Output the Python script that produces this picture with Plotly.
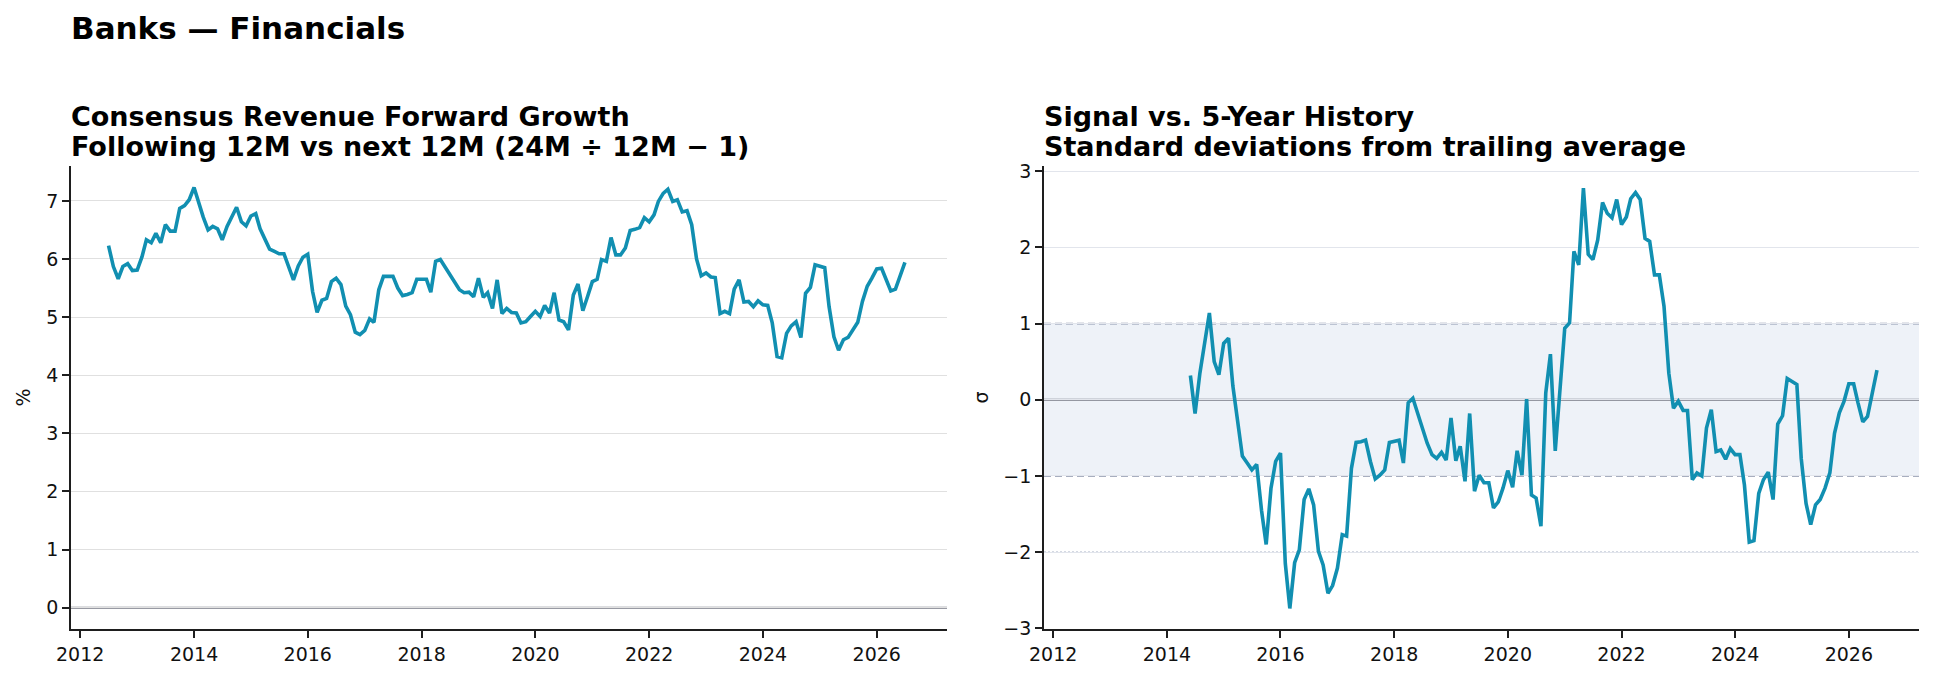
import pandas as pd
import plotly.graph_objects as go

# ---------------- data ----------------
LEFT_START = "2012-07-01"   # first month of the growth series
RIGHT_START = "2014-06-01"  # first month of the z-score series

growth_pct = [
    6.23, 5.87, 5.66, 5.87, 5.92, 5.80, 5.81, 6.04, 6.33, 6.28,
    6.44, 6.28, 6.59, 6.48, 6.48, 6.87, 6.92, 7.02, 7.23, 6.96,
    6.72, 6.50, 6.56, 6.52, 6.33, 6.56, 6.72, 6.89, 6.64, 6.57,
    6.74, 6.78, 6.52, 6.35, 6.17, 6.13, 6.09, 6.09, 5.87, 5.64,
    5.88, 6.03, 6.08, 5.44, 5.08, 5.29, 5.32, 5.61, 5.67, 5.56,
    5.19, 5.04, 4.74, 4.70, 4.77, 4.97, 4.91, 5.47, 5.70, 5.70,
    5.70, 5.50, 5.37, 5.39, 5.42, 5.65, 5.65, 5.65, 5.43, 5.96,
    5.99, 5.86, 5.73, 5.61, 5.47, 5.42, 5.43, 5.35, 5.67, 5.34,
    5.42, 5.15, 5.64, 5.06, 5.15, 5.08, 5.07, 4.90, 4.92, 5.01,
    5.10, 5.01, 5.20, 5.07, 5.42, 4.95, 4.92, 4.78, 5.38, 5.57,
    5.11, 5.35, 5.61, 5.65, 5.99, 5.96, 6.37, 6.07, 6.07, 6.19,
    6.49, 6.51, 6.54, 6.71, 6.64, 6.76, 6.99, 7.13, 7.20, 6.99,
    7.02, 6.81, 6.83, 6.59, 6.00, 5.71, 5.76, 5.69, 5.68, 5.06,
    5.10, 5.06, 5.48, 5.64, 5.26, 5.27, 5.18, 5.28, 5.21, 5.20,
    4.90, 4.32, 4.30, 4.72, 4.85, 4.92, 4.65, 5.41, 5.51, 5.90,
    5.87, 5.85, 5.18, 4.66, 4.43, 4.61, 4.65, 4.79, 4.91, 5.27,
    5.53, 5.67, 5.83, 5.84, 5.64, 5.45, 5.48, 5.70, 5.94,
]

zscore = [
    0.32, -0.18, 0.35, 0.77, 1.14, 0.50, 0.33, 0.74, 0.81, 0.18,
    -0.28, -0.74, -0.83, -0.92, -0.85, -1.45, -1.90, -1.16, -0.81, -0.70,
    -2.15, -2.74, -2.14, -1.97, -1.31, -1.17, -1.38, -1.99, -2.17, -2.54,
    -2.44, -2.21, -1.77, -1.79, -0.90, -0.56, -0.55, -0.53, -0.81, -1.04,
    -0.99, -0.92, -0.56, -0.55, -0.53, -0.83, -0.04, 0.02, -0.18, -0.39,
    -0.57, -0.72, -0.77, -0.69, -0.79, -0.24, -0.80, -0.61, -1.07, -0.18,
    -1.20, -0.99, -1.09, -1.09, -1.42, -1.34, -1.16, -0.93, -1.15, -0.67,
    -0.99, 0.01, -1.25, -1.29, -1.66, 0.09, 0.60, -0.67, 0.13, 0.94,
    1.01, 1.95, 1.77, 2.78, 1.91, 1.84, 2.10, 2.59, 2.45, 2.39,
    2.63, 2.30, 2.40, 2.64, 2.72, 2.63, 2.12, 2.08, 1.64, 1.64,
    1.23, 0.35, -0.11, -0.02, -0.14, -0.14, -1.05, -0.96, -1.00, -0.37,
    -0.13, -0.68, -0.66, -0.78, -0.64, -0.72, -0.72, -1.12, -1.87, -1.85,
    -1.23, -1.05, -0.95, -1.31, -0.32, -0.21, 0.28, 0.24, 0.20, -0.77,
    -1.36, -1.64, -1.38, -1.31, -1.16, -0.96, -0.44, -0.17, -0.02, 0.21,
    0.21, -0.04, -0.29, -0.22, 0.09, 0.39,
]

suptitle = "Banks — Financials"
left_title = ["Consensus Revenue Forward Growth",
              "Following 12M vs next 12M (24M ÷ 12M − 1)"]
right_title = ["Signal vs. 5-Year History",
               "Standard deviations from trailing average"]
left_ylabel = "%"
right_ylabel = "σ"

left_dates = pd.date_range(LEFT_START, periods=len(growth_pct), freq="MS")
right_dates = pd.date_range(RIGHT_START, periods=len(zscore), freq="MS")

# ---------------- style ----------------
W, H = 1934, 679
FONT = "DejaVu Sans"
LINE_COLOR = "#118fb1"
SPINE = "#1e1e1e"
ZERO = "#767884"
TICK_SIZE = 19

def px_x(p):
    return p / W

def px_y(p):
    return 1 - p / H

LEFT_DOM = [px_x(71), px_x(947)]
RIGHT_DOM = [px_x(1044), px_x(1919)]
Y_DOM = [px_y(629), px_y(166)]
X_RANGE = ["2011-11-03", "2027-03-28"]

fig = go.Figure()
fig.add_trace(go.Scatter(x=left_dates, y=growth_pct, mode="lines",
                         line=dict(color=LINE_COLOR, width=3.6),
                         xaxis="x", yaxis="y", showlegend=False))
fig.add_trace(go.Scatter(x=right_dates, y=zscore, mode="lines",
                         line=dict(color=LINE_COLOR, width=3.6),
                         xaxis="x2", yaxis="y2", showlegend=False))

common_x = dict(type="date", range=X_RANGE, showgrid=False, zeroline=False,
                automargin=False,
                showline=True, linecolor=SPINE, linewidth=1.8,
                ticks="outside", ticklen=7, tickwidth=1.8, tickcolor=SPINE,
                tick0="2012-01-01", dtick="M24", tickformat="%Y",
                tickfont=dict(family=FONT, size=TICK_SIZE, color="#111"))
common_y = dict(showline=True, linecolor=SPINE, linewidth=1.8,
                automargin=False,
                ticks="outside", ticklen=7, tickwidth=1.8, tickcolor=SPINE,
                zeroline=False, dtick=1,
                tickfont=dict(family=FONT, size=TICK_SIZE, color="#111"))

fig.update_layout(
    width=W, height=H,
    margin=dict(l=0, r=0, t=0, b=0),
    paper_bgcolor="white", plot_bgcolor="white",
    showlegend=False,
    xaxis=dict(domain=LEFT_DOM, anchor="y", **common_x),
    xaxis2=dict(domain=RIGHT_DOM, anchor="y2", **common_x),
    yaxis=dict(domain=Y_DOM, anchor="x", range=[-0.367, 7.60],
               showgrid=True, gridcolor="#e0e0e0", gridwidth=1, **common_y),
    yaxis2=dict(domain=Y_DOM, anchor="x2", range=[-3.01, 3.07],
                showgrid=True, gridcolor="#e2e5ec", gridwidth=1, **common_y),
)

DASH = "7px,4px"
shapes = [
    # left zero line
    dict(type="line", xref="x domain", yref="y", x0=0, x1=1, y0=0, y1=0,
         line=dict(color=ZERO, width=2), layer="below"),
    # right ±1 band
    dict(type="rect", xref="x2 domain", yref="y2", x0=0, x1=1, y0=-1, y1=1,
         fillcolor="#eef2f8", line=dict(width=0), layer="below"),
    dict(type="line", xref="x2 domain", yref="y2", x0=0, x1=1, y0=1, y1=1,
         line=dict(color="#8a94ab", width=1.6, dash=DASH), layer="below"),
    dict(type="line", xref="x2 domain", yref="y2", x0=0, x1=1, y0=-1, y1=-1,
         line=dict(color="#8a94ab", width=1.6, dash=DASH), layer="below"),
    dict(type="line", xref="x2 domain", yref="y2", x0=0, x1=1, y0=2, y1=2,
         line=dict(color="#aab3c8", width=1.1, dash="2px,2px"), layer="below"),
    dict(type="line", xref="x2 domain", yref="y2", x0=0, x1=1, y0=-2, y1=-2,
         line=dict(color="#aab3c8", width=1.1, dash="2px,2px"), layer="below"),
    dict(type="line", xref="x2 domain", yref="y2", x0=0, x1=1, y0=0, y1=0,
         line=dict(color=ZERO, width=2), layer="below"),
]
fig.update_layout(shapes=shapes)

annots = [
    dict(text=suptitle, x=px_x(70), y=px_y(28), size=31),
    dict(text=left_title[0], x=px_x(70), y=px_y(116), size=27),
    dict(text=left_title[1], x=px_x(70), y=px_y(146), size=27),
    dict(text=right_title[0], x=px_x(1043), y=px_y(116), size=27),
    dict(text=right_title[1], x=px_x(1043), y=px_y(146), size=27),
]
for a in annots:
    fig.add_annotation(text=a["text"], x=a["x"], y=a["y"], xref="paper", yref="paper",
                       xanchor="left", yanchor="middle", showarrow=False, borderpad=0,
                       font=dict(family=FONT, size=a["size"], color="#000", weight="bold"))

mid_y = px_y((166 + 629) / 2)
fig.add_annotation(text=left_ylabel, x=px_x(22), y=mid_y, xref="paper", yref="paper",
                   xanchor="center", yanchor="middle", textangle=-90, showarrow=False,
                   font=dict(family=FONT, size=TICK_SIZE, color="#111"))
fig.add_annotation(text=right_ylabel, x=px_x(980), y=mid_y, xref="paper", yref="paper",
                   xanchor="center", yanchor="middle", textangle=-90, showarrow=False,
                   font=dict(family=FONT, size=TICK_SIZE, color="#111"))

fig.write_html("out.html")
